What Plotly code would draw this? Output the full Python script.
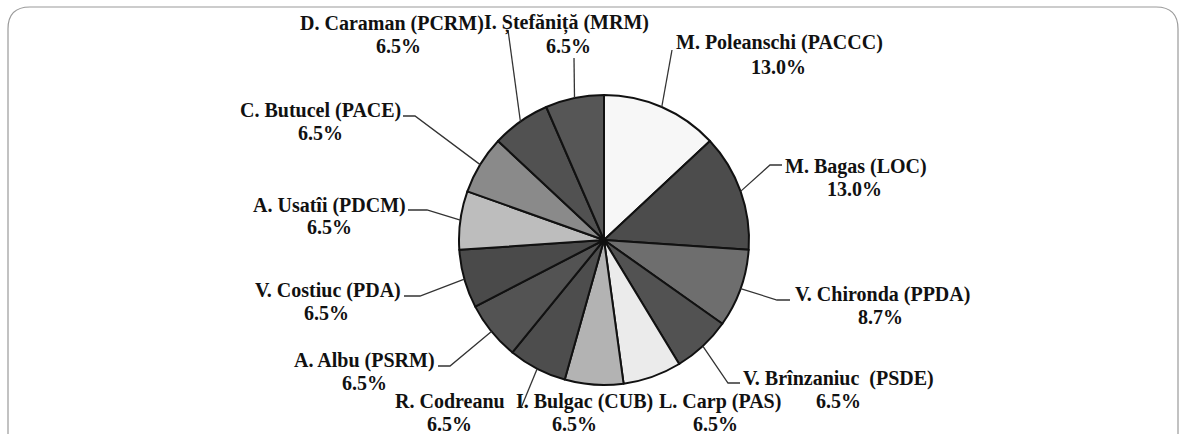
import math
import plotly.graph_objects as go

# ---- data ----
candidates = ["M. Poleanschi (PACCC)", "M. Bagas (LOC)", "V. Chironda (PPDA)",
              "V. Brînzaniuc  (PSDE)", "L. Carp (PAS)", "I. Bulgac (CUB)",
              "R. Codreanu", "A. Albu (PSRM)", "V. Costiuc (PDA)",
              "A. Usatîi (PDCM)", "C. Butucel (PACE)", "D. Caraman (PCRM)",
              "I. Ștefăniță (MRM)"]
shares = [13.0, 13.0, 8.7, 6.5, 6.5, 6.5, 6.5, 6.5, 6.5, 6.5, 6.5, 6.5, 6.5]
share_text = ["13.0%", "13.0%", "8.7%", "6.5%", "6.5%", "6.5%", "6.5%",
              "6.5%", "6.5%", "6.5%", "6.5%", "6.5%", "6.5%"]

# ---- styling / layout (pixels) ----
W, H = 1184, 434
CX, CY, R = 604, 240, 145
slice_colors = ["#f7f7f7", "#4c4c4c", "#6e6e6e", "#525252", "#ebebeb", "#b3b3b3",
                "#4d4d4d", "#535353", "#4a4a4a", "#bdbdbd", "#8a8a8a", "#515151",
                "#565656"]
name_pos = [(779, 42), (856, 166), (882, 294), (838, 378), (720, 401), (584, 401),
            (450, 401), (364, 360), (328, 290), (329, 205), (320, 110), (392, 23),
            (566, 23)]
pct_pos = [(778, 67), (854, 189), (880, 317), (838, 401), (715, 424), (574, 424),
           (449, 424), (364, 383), (326, 313), (329, 227), (320, 133), (398, 46),
           (568, 46)]
leader_pts = [[(672, 50)], [(770, 165), (782, 165)], [(777, 300), (790, 300)],
              [(728, 383), (740, 383)], [], [], [(521, 408)],
              [(450, 366), (438, 366)], [(420, 296), (404, 296)],
              [(427, 210), (408, 210)], [(415, 116), (403, 116)], [(508, 30)],
              [(574, 58)]]


def px(x):
    return x / W


def py(y):
    return 1 - y / H


fig = go.Figure(go.Pie(
    labels=candidates, values=shares, sort=False, direction="clockwise",
    rotation=0, textinfo="none", hoverinfo="label+percent",
    marker=dict(colors=slice_colors, line=dict(color="#111111", width=2)),
    domain=dict(x=[px(CX - R), px(CX + R)], y=[py(CY + R), py(CY - R)]),
    showlegend=False,
))

shapes = []
# leader lines from the middle of each slice's arc
total = sum(shares)
cum = 0.0
for i, v in enumerate(shares):
    mid = (cum + v / 2) / total * 2 * math.pi
    cum += v
    pts = leader_pts[i]
    if not pts:
        continue
    ex = CX + R * math.sin(mid)
    ey = CY - R * math.cos(mid)
    path = f"M {px(ex)},{py(ey)}" + "".join(f" L {px(x)},{py(y)}" for x, y in pts)
    shapes.append(dict(type="path", path=path, xref="paper", yref="paper",
                       line=dict(color="#333333", width=1.3)))

# rounded frame around the chart
fx0, fx1, fy0, rr = 8, 1178, 7, 22
frame = (f"M {px(fx0)},{py(H + 10)} L {px(fx0)},{py(fy0 + rr)} "
         f"Q {px(fx0)},{py(fy0)} {px(fx0 + rr)},{py(fy0)} "
         f"L {px(fx1 - rr)},{py(fy0)} Q {px(fx1)},{py(fy0)} {px(fx1)},{py(fy0 + rr)} "
         f"L {px(fx1)},{py(H + 10)}")
shapes.append(dict(type="path", path=frame, xref="paper", yref="paper",
                   line=dict(color="#9a9a9a", width=1.2)))

font = dict(family="Liberation Serif", size=20, color="#111111")
annotations = []
for i, name in enumerate(candidates):
    annotations.append(dict(x=px(name_pos[i][0]), y=py(name_pos[i][1]), xref="paper",
                            yref="paper", text=f"<b>{name}</b>", showarrow=False,
                            xanchor="center", yanchor="middle", font=font))
    annotations.append(dict(x=px(pct_pos[i][0]), y=py(pct_pos[i][1]), xref="paper",
                            yref="paper", text=f"<b>{share_text[i]}</b>", showarrow=False,
                            xanchor="center", yanchor="middle", font=font))

fig.update_layout(width=W, height=H, margin=dict(l=0, r=0, t=0, b=0),
                  paper_bgcolor="white", plot_bgcolor="white",
                  shapes=shapes, annotations=annotations)
fig.write_html("out.html", config={"displayModeBar": False},
               post_script="document.body.style.margin='0';"
                           "document.body.style.overflow='hidden';")
